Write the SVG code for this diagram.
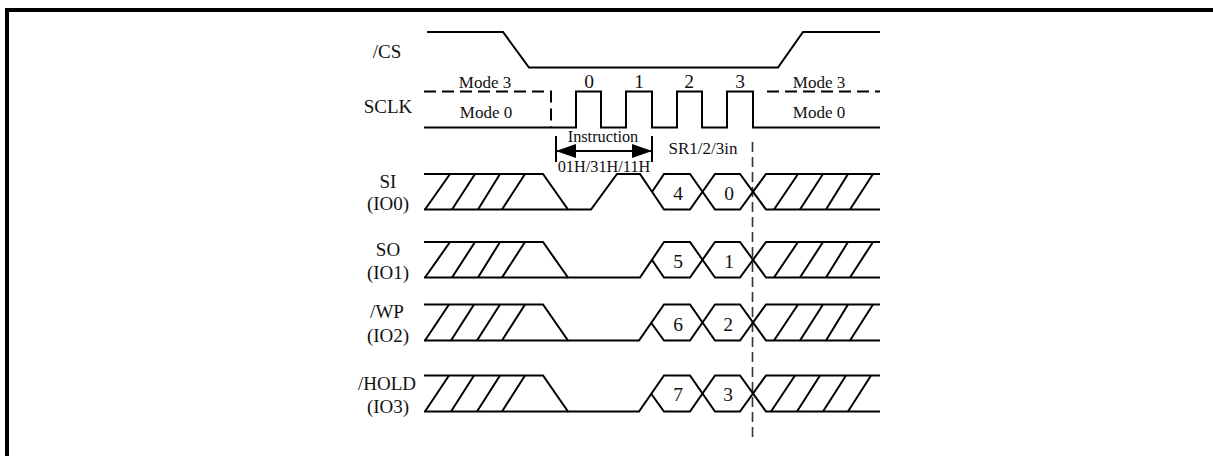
<svg xmlns="http://www.w3.org/2000/svg" width="1213" height="456" viewBox="0 0 1213 456">
<style>
.w{fill:none;stroke:#000;stroke-width:2;stroke-linejoin:miter}
.d{fill:none;stroke:#000;stroke-width:2;stroke-dasharray:12 6}
.g{fill:none;stroke:#333;stroke-width:1.6;stroke-dasharray:10 5}
text{font-family:"Liberation Serif","Times New Roman",serif;fill:#111;text-anchor:middle}
.l{font-size:19px}.m{font-size:17px}.n{font-size:16.3px}.s{font-size:19.500px}
</style>
<defs>
<marker id="ah" viewBox="0 0 20 14" refX="20" refY="7" markerWidth="20" markerHeight="14" markerUnits="userSpaceOnUse" orient="auto-start-reverse"><path d="M0 0L20 7L0 14Z" fill="#000"/></marker>
</defs>
<rect width="1213" height="456" fill="#fff"/>
<path id="frame" d="M7 456V10H1213" fill="none" stroke="#000" stroke-width="4"/>
<g id="connectors">
<path class="w" d="M427 32H503L529 67.500H778L803 32H880"/>
<path class="d" d="M424 91.500H551V127"/>
<path class="w" d="M424 127.500H576V91.500H601V127.500H626V91.500H652V127.500H677V91.500H702V127.500H727V91.500H753V127.500H880"/>
<path class="d" d="M767 91.500H880"/>
<path class="g" d="M752.500 142V441"/>
<path class="w" d="M556 136V162"/>
<path class="w" d="M652 136V162"/>
<path class="w" d="M556 151H652" marker-start="url(#ah)" marker-end="url(#ah)"/>
</g>
<g id="si-wave">
<path class="w" d="M424 174H543L568 209.500H591L617 174H640L664 209.500H690L715 174H740L766 209.500H880"/>
<path class="w" d="M424 209.500H568M652 192L664 174H690L715 209.500H740L766 174H880"/>
<path class="w" d="M450 174L425 209.500M475 174L452 209.500M500 174L478 209.500M525 174L502 209.500M798 174L774 209.500M823 174L800 209.500M848 174L826 209.500M873 174L850 209.500"/>
</g>
<g id="so-wave">
<path class="w" d="M424 242H543L568 277.500H640L664 242H690L715 277.500H740L766 242H880"/>
<path class="w" d="M424 277.500H568M652 260L664 277.500H690L715 242H740L766 277.500H880"/>
<path class="w" d="M450 242L425 277.500M475 242L452 277.500M500 242L478 277.500M525 242L502 277.500M798 242L774 277.500M823 242L800 277.500M848 242L826 277.500M873 242L850 277.500"/>
</g>
<g id="wp-wave">
<path class="w" d="M424 304.500H543L568 340.500H639L664 304.500H690L715 340.500H740L766 304.500H880"/>
<path class="w" d="M424 340.500H568M651 322.500L664 340.500H690L715 304.500H740L766 340.500H880"/>
<path class="w" d="M449 304.500L425 340.500M474 304.500L451 340.500M500 304.500L477 340.500M525 304.500L502 340.500M798 304.500L774 340.500M823 304.500L800 340.500M848 304.500L826 340.500M873 304.500L850 340.500"/>
</g>
<g id="hold-wave">
<path class="w" d="M424 375.500H543L568 411.500H639L664 375.500H690L715 411.500H740L766 375.500H880"/>
<path class="w" d="M424 411.500H568M651 393.500L664 411.500H690L715 375.500H740L766 411.500H880"/>
<path class="w" d="M449 375.500L425 411.500M474 375.500L451 411.500M500 375.500L477 411.500M525 375.500L502 411.500M795 375.500L771 411.500M820 375.500L797 411.500M846 375.500L823 411.500M871 375.500L848 411.500"/>
</g>
<g id="labels">
<text class="l" x="387" y="58">/CS</text>
<text class="l" x="388" y="113">SCLK</text>
<text class="l" x="388" y="188">SI</text>
<text class="l" x="388" y="210">(IO0)</text>
<text class="l" x="388" y="256">SO</text>
<text class="l" x="388" y="279">(IO1)</text>
<text class="l" x="387" y="318">/WP</text>
<text class="l" x="388" y="342">(IO2)</text>
<text class="l" x="387" y="390">/HOLD</text>
<text class="l" x="388" y="413">(IO3)</text>
<text class="m" x="485" y="88">Mode 3</text>
<text class="m" x="486" y="118">Mode 0</text>
<text class="m" x="819" y="88">Mode 3</text>
<text class="m" x="819" y="118">Mode 0</text>
<text class="s" x="589" y="88">0</text>
<text class="s" x="639" y="88">1</text>
<text class="s" x="689" y="88">2</text>
<text class="s" x="740" y="88">3</text>
<text class="n" x="603" y="142">Instruction</text>
<text class="n" x="604" y="172">01H/31H/11H</text>
<text class="m" x="703" y="154">SR1/2/3in</text>
<text class="s" x="678" y="200">4</text>
<text class="s" x="729" y="200">0</text>
<text class="s" x="678" y="268">5</text>
<text class="s" x="729" y="268">1</text>
<text class="s" x="678" y="331">6</text>
<text class="s" x="728" y="331">2</text>
<text class="s" x="678" y="401">7</text>
<text class="s" x="728" y="401">3</text>
</g>
</svg>
